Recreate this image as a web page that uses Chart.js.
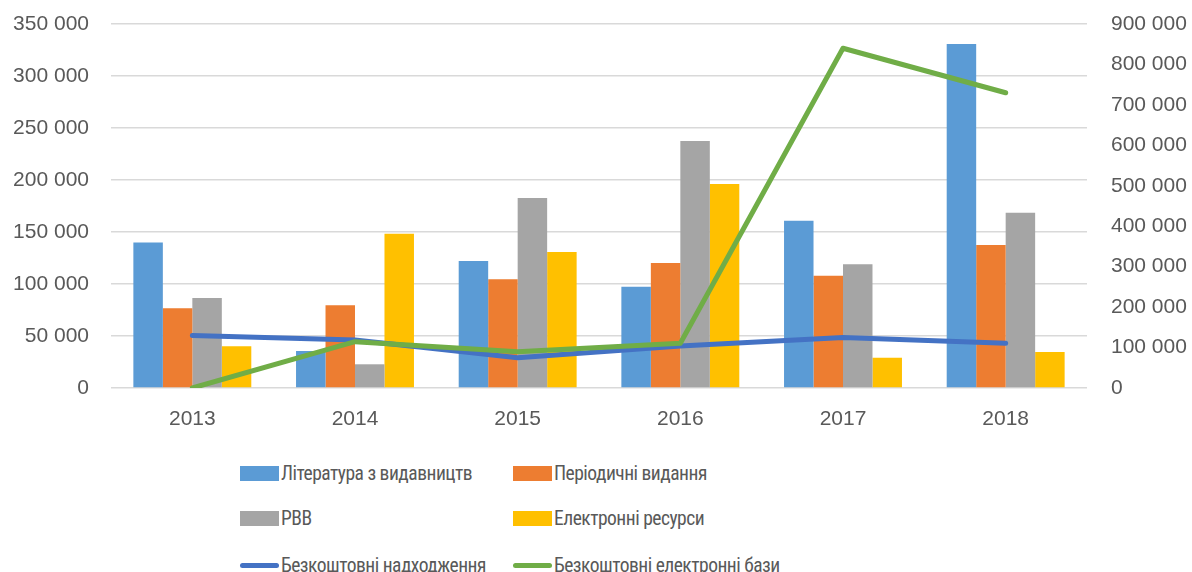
<!DOCTYPE html>
<html>
<head>
<meta charset="utf-8">
<script src="https://cdn.jsdelivr.net/npm/chart.js@4.4.0/dist/chart.umd.min.js"></script>
<style>
    html, body { margin: 0; padding: 0; background: #fff; }
    #wrap { position: relative; width: 1192px; height: 572px; overflow: hidden; }
    #chart { position: absolute; left: 0; top: 0; }
    .legend-item {
        position: absolute;
        display: flex;
        align-items: center;
        font-family: "Liberation Sans Narrow", "Roboto Condensed", Roboto, sans-serif;
        font-size: 19.5px;
        letter-spacing: -0.5px;
        color: #595959;
        white-space: nowrap;
        line-height: 1;
    }
    .legend-item .mark { width: 39px; margin-right: 2px; flex: none; }
    .legend-item .mark.box { height: 15px; }
    .legend-item .mark.line { height: 5px; border-radius: 3px; }
</style>
</head>
<body>
<div id="wrap">
    <canvas id="chart" width="1192" height="445"></canvas>
    <div id="legend"></div>
</div>
<script>
    const years = ['2013', '2014', '2015', '2016', '2017', '2018'];

    // bars, left axis
    const literatura = [140000, 35600, 122100, 97400, 160900, 330800];
    const periodychni = [76600, 79500, 104500, 120200, 108000, 137500];
    const rvv = [86500, 22800, 182700, 237500, 118900, 168600];
    const elektronni = [40100, 148400, 130800, 196200, 29100, 34600];

    // lines, right axis
    const bezkoshtovni = [130000, 118500, 75000, 104000, 125000, 110500];
    const bezkoshtovniBazy = [0, 114500, 89800, 110500, 840000, 730000];

    const leftTicks = { min: 0, max: 350000, step: 50000 };
    const rightTicks = { min: 0, max: 900000, step: 100000 };

    const textColor = '#595959';
    const tickFont = { family: '"Liberation Sans", Arial, sans-serif', size: 21 };

    function fmt(v) {
        return String(v).replace(/\B(?=(\d{3})+(?!\d))/g, ' ');
    }

    const series = [
        { label: 'Література з видавництв', type: 'bar', data: literatura, color: '#5b9bd5' },
        { label: 'Періодичні видання', type: 'bar', data: periodychni, color: '#ed7d31' },
        { label: 'РВВ', type: 'bar', data: rvv, color: '#a5a5a5' },
        { label: 'Електронні ресурси', type: 'bar', data: elektronni, color: '#ffc000' },
        { label: 'Безкоштовні надходження', type: 'line', data: bezkoshtovni, color: '#4472c4' },
        { label: 'Безкоштовні електронні бази', type: 'line', data: bezkoshtovniBazy, color: '#70ad47' }
    ];

    const datasets = series.map((s, i) => {
        if (s.type === 'bar') {
            return {
                type: 'bar',
                label: s.label,
                data: s.data,
                backgroundColor: s.color,
                borderWidth: 0,
                yAxisID: 'y',
                order: 3,
                categoryPercentage: 0.725,
                barPercentage: 1.0
            };
        }
        return {
            type: 'line',
            label: s.label,
            data: s.data,
            borderColor: s.color,
            backgroundColor: s.color,
            borderWidth: 5,
            borderCapStyle: 'round',
            borderJoinStyle: 'round',
            pointRadius: 0,
            tension: 0,
            fill: false,
            yAxisID: 'y1',
            order: i === 5 ? 0 : 1
        };
    });

    // fixed axis widths; tick padding should not push the plot area down
    function fitVertical(width) {
        return scale => {
            scale.width = width;
            scale.paddingTop = 0;
            scale.paddingBottom = 0;
        };
    }

    const ctx = document.getElementById('chart').getContext('2d');
    const chart = new Chart(ctx, {
        data: { labels: years, datasets: datasets },
        options: {
            responsive: false,
            animation: false,
            devicePixelRatio: 1,
            layout: { padding: { top: 24, left: 0, right: 0, bottom: 0 } },
            plugins: {
                legend: { display: false },
                tooltip: { enabled: false }
            },
            scales: {
                x: {
                    grid: { display: false, drawTicks: false },
                    border: { display: false },
                    ticks: { color: textColor, font: tickFont, padding: 19, maxRotation: 0 },
                    afterFit: scale => { scale.height = 57; }
                },
                y: {
                    position: 'left',
                    min: leftTicks.min,
                    max: leftTicks.max,
                    grid: { color: '#d9d9d9', lineWidth: 1.5, drawTicks: false },
                    border: { display: false },
                    ticks: {
                        stepSize: leftTicks.step,
                        color: textColor,
                        font: tickFont,
                        padding: 22,
                        callback: v => fmt(v)
                    },
                    afterFit: fitVertical(111)
                },
                y1: {
                    position: 'right',
                    min: rightTicks.min,
                    max: rightTicks.max,
                    grid: { display: false, drawTicks: false },
                    border: { display: false },
                    ticks: {
                        stepSize: rightTicks.step,
                        color: textColor,
                        font: tickFont,
                        padding: 24,
                        callback: v => fmt(v)
                    },
                    afterFit: fitVertical(105)
                }
            }
        }
    });

    // Legend in two columns, built from the same series list
    const legend = document.getElementById('legend');
    const colLeft = [240, 513];
    const rowTop = [464, 509, 556];
    series.forEach((s, i) => {
        const item = document.createElement('div');
        item.className = 'legend-item';
        item.style.left = colLeft[i % 2] + 'px';
        item.style.top = rowTop[Math.floor(i / 2)] + 'px';
        const mark = document.createElement('span');
        mark.className = 'mark ' + (s.type === 'bar' ? 'box' : 'line');
        mark.style.background = s.color;
        const text = document.createElement('span');
        text.textContent = s.label;
        item.appendChild(mark);
        item.appendChild(text);
        legend.appendChild(item);
    });
</script>
</body>
</html>
